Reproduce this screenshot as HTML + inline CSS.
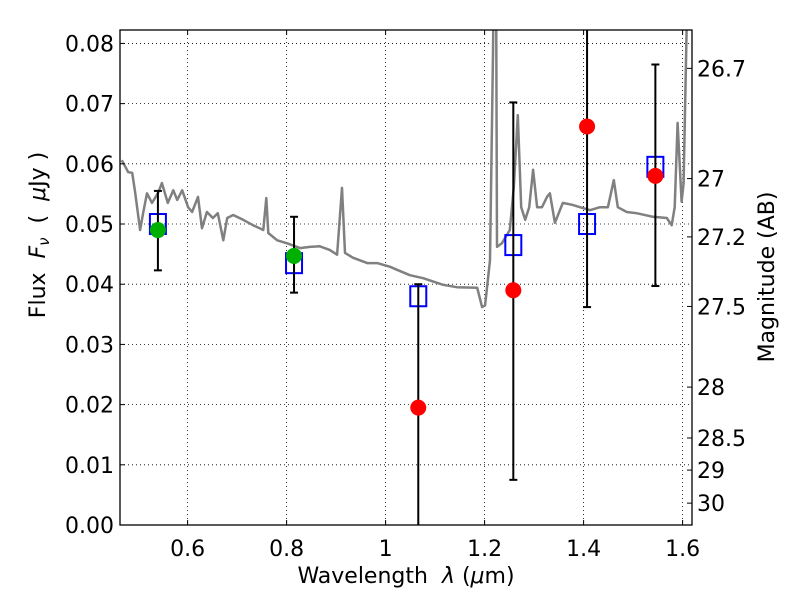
<!DOCTYPE html>
<html><head><meta charset="utf-8"><style>
html,body{margin:0;padding:0;background:#fff;}
svg text{font-family:"DejaVu Sans","Liberation Sans",sans-serif;white-space:pre;}
</style></head><body>
<svg id="chart" width="800" height="600" xmlns="http://www.w3.org/2000/svg">
<defs><clipPath id="clip"><rect x="120" y="30" width="572" height="495"/></clipPath></defs>
<rect width="800" height="600" fill="#fff"/>
<g id="grid"></g>
<g id="spec" clip-path="url(#clip)"></g>
<g id="marks" clip-path="url(#clip)"></g>
<rect x="120" y="30" width="572" height="495" fill="none" stroke="#000" stroke-width="1.3"/>
<g id="axes"></g>
<text x="406" y="583" font-size="22" text-anchor="middle" xml:space="preserve">Wavelength  <tspan font-style="italic">λ</tspan> (<tspan font-style="italic">μ</tspan>m)</text>
<text transform="translate(45,235) rotate(-90)" font-size="22" text-anchor="middle" xml:space="preserve">Flux  <tspan font-style="italic">F</tspan><tspan font-style="italic" font-size="15" dy="4">ν</tspan><tspan dy="-4">  (  </tspan><tspan font-style="italic">μ</tspan>Jy )</text>
<text transform="translate(774,277) rotate(-90)" font-size="22" text-anchor="middle">Magnitude (AB)</text>
</svg>
<script>
const xTicks=[0.6,0.8,1.0,1.2,1.4,1.6];
const xTickLabels=["0.6","0.8","1","1.2","1.4","1.6"];
const yTicks=[0,0.01,0.02,0.03,0.04,0.05,0.06,0.07,0.08];
const yTickLabels=["0.00","0.01","0.02","0.03","0.04","0.05","0.06","0.07","0.08"];
const magTicks=[26.7,27,27.2,27.5,28,28.5,29,30];
const magTickLabels=["26.7","27","27.2","27.5","28","28.5","29","30"];
const specLam=[0.467,0.480,0.488,0.494,0.504,0.510,0.518,0.528,0.540,0.548,0.560,0.571,0.579,0.589,0.601,0.609,0.621,0.629,0.639,0.651,0.661,0.672,0.680,0.692,0.712,0.732,0.753,0.759,0.763,0.781,0.801,0.827,0.847,0.867,0.887,0.902,0.912,0.918,0.934,0.963,0.983,1.009,1.023,1.049,1.076,1.116,1.144,1.185,1.195,1.201,1.211,1.217,1.219,1.223,1.225,1.235,1.251,1.259,1.267,1.274,1.282,1.290,1.298,1.306,1.316,1.326,1.332,1.342,1.358,1.377,1.397,1.413,1.433,1.449,1.461,1.469,1.487,1.507,1.540,1.568,1.578,1.584,1.590,1.598,1.602,1.608,1.614];
const specFlux=[0.0606,0.0586,0.0585,0.0553,0.0490,0.0518,0.0551,0.0535,0.0551,0.0568,0.0535,0.0556,0.0540,0.0556,0.0528,0.0520,0.0545,0.0493,0.0520,0.0510,0.0518,0.0473,0.0510,0.0515,0.0507,0.0498,0.0490,0.0543,0.0485,0.0473,0.0468,0.0460,0.0462,0.0463,0.0457,0.0449,0.0560,0.0452,0.0444,0.0435,0.0435,0.0429,0.0424,0.0415,0.0410,0.0399,0.0395,0.0394,0.0362,0.0365,0.0440,0.0784,0.095,0.095,0.0462,0.0468,0.0490,0.0561,0.0681,0.0528,0.0507,0.0528,0.0590,0.0528,0.0528,0.0545,0.0551,0.0502,0.0535,0.0532,0.0527,0.0523,0.0528,0.0528,0.0573,0.0528,0.0520,0.0518,0.0512,0.0510,0.0498,0.0528,0.0668,0.0537,0.0568,0.0822,0.095];
const bandLam=[0.540,0.815,1.066,1.258,1.407,1.545];
const modelFlux=[0.0500,0.0435,0.0380,0.0465,0.0500,0.0595];
const obsFlux=[0.0490,0.0447,0.0195,0.0390,0.0662,0.0580];
const obsColor=["#00b000","#00b000","#ff0000","#ff0000","#ff0000","#ff0000"];
const errLow=[0.0423,0.0386,-0.01,0.0075,0.0362,0.0397];
const errHigh=[0.0555,0.0512,0.0400,0.0702,0.0900,0.0765];

const X0=120,X1=692,Y0=525,Y1=30,XMIN=0.4634,XMAX=1.6190,YMIN=0,YMAX=0.08223;
const sx=v=>X0+(v-XMIN)/(XMAX-XMIN)*(X1-X0);
const sy=v=>Y0-(v-YMIN)/(YMAX-YMIN)*(Y0-Y1);
const magToFlux=m=>Math.pow(10,(23.9-m)/2.5);
const NS="http://www.w3.org/2000/svg";
function mk(tag,attrs,parent){const e=document.createElementNS(NS,tag);for(const k in attrs)e.setAttribute(k,attrs[k]);parent.appendChild(e);return e;}
const grid=document.getElementById('grid'),axes=document.getElementById('axes'),spec=document.getElementById('spec'),marks=document.getElementById('marks');

xTicks.forEach((t,i)=>{
  const x=sx(t);
  const g=mk('line',{x1:x,x2:x,y1:Y1,y2:Y0,stroke:'#000','stroke-width':0.8,'stroke-dasharray':'1,3'},grid);
  
  
  mk('line',{x1:x,x2:x,y1:Y0,y2:Y0-5,stroke:'#000'},axes);
  mk('line',{x1:x,x2:x,y1:Y1,y2:Y1+5,stroke:'#000'},axes);
  const tx=mk('text',{x:x,y:556,'font-size':22,'text-anchor':'middle'},axes);
  tx.textContent=xTickLabels[i];
  
  
});
yTicks.forEach((t,i)=>{
  const y=sy(t);
  const g=mk('line',{x1:X0,x2:X1,y1:y,y2:y,stroke:'#000','stroke-width':0.8,'stroke-dasharray':'1,3'},grid);
  
  
  mk('line',{x1:X0,x2:X0+5,y1:y,y2:y,stroke:'#000'},axes);
  const tx=mk('text',{x:114,y:y+8,'font-size':22,'text-anchor':'end'},axes);
  tx.textContent=yTickLabels[i];
  
  
});
magTicks.forEach((m,i)=>{
  const y=sy(magToFlux(m));
  mk('line',{x1:X1,x2:X1-5,y1:y,y2:y,stroke:'#000'},axes);
  const tx=mk('text',{x:697,y:y+8,'font-size':22,'text-anchor':'start'},axes);
  tx.textContent=magTickLabels[i];
  
  
});

const d=specLam.map((l,i)=>(i?'L':'M')+sx(l).toFixed(1)+','+sy(specFlux[i]).toFixed(1)).join(' ');
const sp=mk('path',{d:d,fill:'none',stroke:'#808080','stroke-width':2.5,'stroke-linejoin':'round'},spec);



bandLam.forEach((l,i)=>{
  const x=sx(l);
  const sq=mk('rect',{x:x-8,y:sy(modelFlux[i])-10,width:16,height:20,fill:'none',stroke:'#0000ff','stroke-width':2},marks);
  
  
  const eb=mk('line',{x1:x,x2:x,y1:sy(errLow[i]),y2:sy(errHigh[i]),stroke:'#000','stroke-width':2},marks);
  
  
  mk('line',{x1:x-4,x2:x+4,y1:sy(errLow[i]),y2:sy(errLow[i]),stroke:'#000','stroke-width':2},marks);
  mk('line',{x1:x-4,x2:x+4,y1:sy(errHigh[i]),y2:sy(errHigh[i]),stroke:'#000','stroke-width':2},marks);
  const c=mk('circle',{cx:x,cy:sy(obsFlux[i]),r:8,fill:obsColor[i]},marks);
  
  
});
</script>
</body></html>
